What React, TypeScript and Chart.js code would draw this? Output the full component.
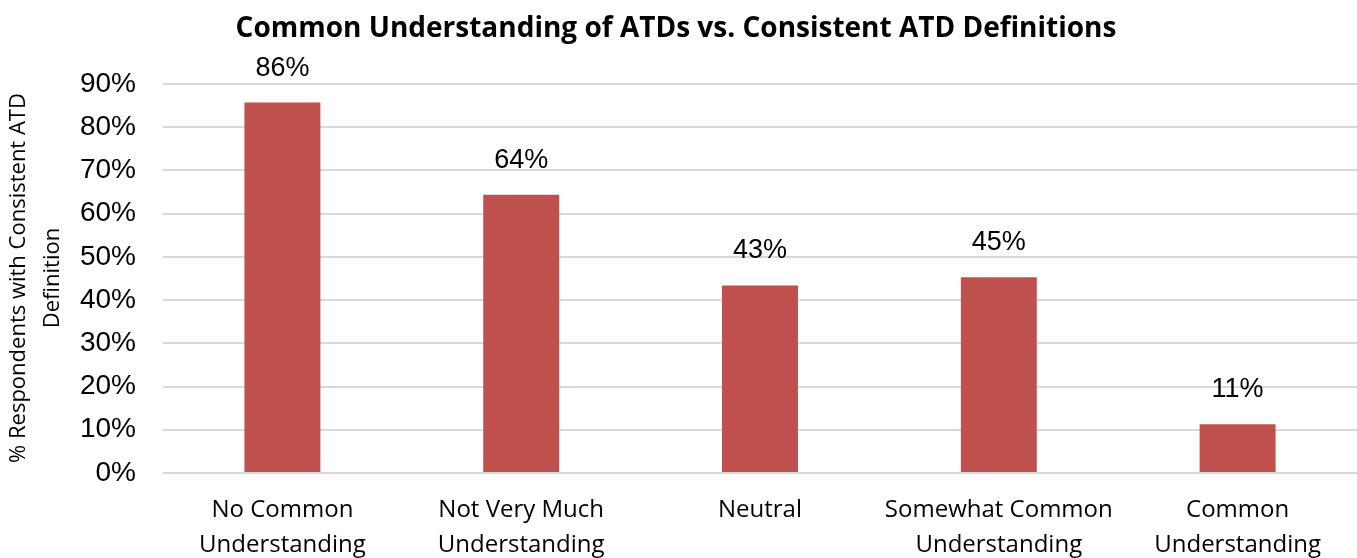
import React, { useEffect, useRef } from "react";
import { Chart, registerables } from "chart.js";

Chart.register(...registerables);

const chartTitle = "Common Understanding of ATDs vs. Consistent ATD Definitions";
const yAxisTitle = ["% Respondents with Consistent ATD", "Definition"];
const categories = [
  ["No Common", "Understanding"],
  ["Not Very Much", "Understanding"],
  ["Neutral"],
  ["Somewhat Common", "Understanding"],
  ["Common", "Understanding"],
];
const values = [85.7, 64.4, 43.4, 45.3, 11.3];
const valueLabels = ["86%", "64%", "43%", "45%", "11%"];
const yTicks = [0, 10, 20, 30, 40, 50, 60, 70, 80, 90];

const BAR = "#C0504D";
const HUMANIST = "'Open Sans', Lato, sans-serif";
const ARIAL = "'Liberation Sans', Arial, sans-serif";

const decorPlugin = {
  id: "decor",
  afterDatasetsDraw(chart: any) {
    const { ctx } = chart;
    const meta = chart.getDatasetMeta(0);
    ctx.save();
    ctx.fillStyle = "#000";
    ctx.font = `27px ${ARIAL}`;
    ctx.textAlign = "center";
    ctx.textBaseline = "alphabetic";
    meta.data.forEach((bar: any, i: number) => {
      ctx.fillText(valueLabels[i], bar.x, bar.y - 27);
    });
    ctx.font = `bold 28px ${HUMANIST}`;
    ctx.fillText(chartTitle, 676, 37);
    ctx.font = `22px ${HUMANIST}`;
    const cy = 278;
    const xs = [19, 53];
    yAxisTitle.forEach((t, i) => {
      ctx.save();
      ctx.translate(xs[i], cy);
      ctx.rotate(-Math.PI / 2);
      ctx.textBaseline = "middle";
      ctx.fillText(t, 0, 0);
      ctx.restore();
    });
    ctx.restore();
  },
};

export default function App() {
  const ref = useRef<HTMLCanvasElement>(null);
  useEffect(() => {
    if (!ref.current) return;
    const chart = new Chart(ref.current, {
      type: "bar",
      data: {
        labels: categories,
        datasets: [
          {
            data: values,
            backgroundColor: BAR,
            barPercentage: 0.318,
            categoryPercentage: 1,
          },
        ],
      },
      options: {
        animation: false,
        responsive: false,
        maintainAspectRatio: false,
        layout: { padding: { top: 84, right: 0, bottom: 0, left: 0 } },
        plugins: {
          legend: { display: false },
          tooltip: { enabled: false },
          title: { display: false },
        },
        scales: {
          x: {
            grid: { display: false, drawTicks: false },
            border: { display: false },
            ticks: {
              color: "#000",
              padding: 20,
              maxRotation: 0,
              autoSkip: false,
              font: { family: HUMANIST, size: 24, lineHeight: 1.46 },
            },
            afterFit(scale: any) {
              scale.height = 85;
            },
          },
          y: {
            min: 0,
            max: 90,
            afterBuildTicks(scale: any) {
              scale.ticks = yTicks.map((v) => ({ value: v }));
            },
            grid: { color: "#d9d9d9", lineWidth: 2, drawTicks: false },
            border: { display: false },
            ticks: {
              color: "#000",
              padding: 27,
              font: { family: ARIAL, size: 28 },
              callback: (v: any) => `${v}%`,
            },
            afterFit(scale: any) {
              scale.width = 163;
            },
          },
        },
      },
      plugins: [decorPlugin],
    });
    return () => chart.destroy();
  }, []);
  return (
    <div style={{ position: "absolute", left: 0, top: 0, width: 1357, height: 558, background: "#fff" }}>
      <canvas ref={ref} width={1357} height={558} />
    </div>
  );
}
